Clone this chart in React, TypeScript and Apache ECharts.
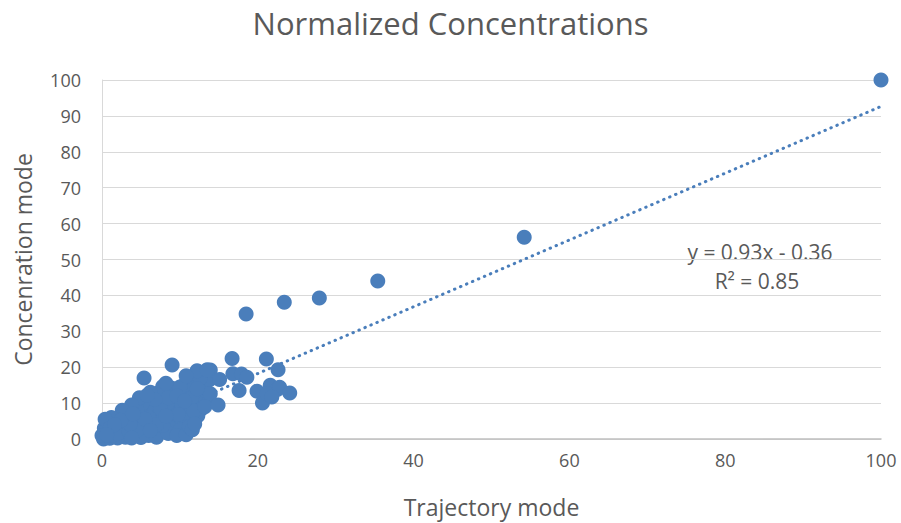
import React, { useEffect, useRef } from "react";
import * as echarts from "echarts";

const titleText = "Normalized Concentrations";
const xName = "Trajectory mode";
const yName = "Concenration mode";
const xTicks = [0, 20, 40, 60, 80, 100];
const yTicks = [0, 10, 20, 30, 40, 50, 60, 70, 80, 90, 100];

// scattered / outlying points
const outliers: number[][] = [
  [100, 100], [54.2, 56.2], [35.4, 44], [27.9, 39.3], [23.4, 38.1], [18.5, 34.8],
  [21.1, 22.3], [16.7, 22.4], [22.6, 19.3], [9, 20.6], [5.4, 17],
  [12.2, 19], [13.9, 19.2], [15.1, 16.6], [16.8, 18.2], [17.9, 18.1], [18.6, 17.2],
  [17.6, 13.5], [19.9, 13.3], [20.6, 10], [21.6, 15], [22.5, 13.8], [21.2, 12.6],
  [22.8, 14.4], [24.1, 12.8], [21.8, 11.7], [14.9, 9.5], [11.6, 2.6], [11.9, 4.2],
  [13.5, 19.3], [10.8, 17.6], [8.2, 15.5],
];

// dense cluster near the origin
const cluster: number[][] = [
  [10.5, 15], [11.4, 16.2], [12.4, 15.5], [13.2, 14], [12.8, 12.2], [13.5, 11],
  [11.5, 13.5], [10.2, 12.8], [12, 10.5], [13.8, 16.5], [13.9, 12.6], [9.8, 10.2],
  [11, 9], [12.8, 8.4], [10.3, 7.5], [8.9, 14.2], [8, 12], [7.8, 14.6], [9, 11.2],
  [9.5, 9], [8.5, 8], [9.2, 6], [10.8, 5.5], [8, 5], [9.5, 4], [8.8, 3], [7.5, 2],
  [6, 1], [7, 0.5], [8.5, 1.5], [10, 2.5], [6.5, 3.5], [7, 6.5], [6.5, 9], [6, 11],
  [5.5, 8], [5, 6], [5.2, 10], [4.5, 4], [4.5, 8], [3.5, 6.5], [3, 3], [4, 1],
  [3, 0.5], [2, 0.3], [1, 0.2], [0.3, 0.5], [0.5, 2], [1.5, 2.5], [2.5, 2],
  [0.8, 4.5], [1.8, 5], [2.2, 4], [3.2, 5.2], [0.3, 3], [1.2, 1], [5.5, 2],
  [5.8, 4.5], [6.8, 7.8], [7.4, 10], [4, 3], [2.8, 6], [0.2, 0], [0, 1],
  [9.6, 1], [10.8, 1.2], [11.2, 3.5], [12.3, 6.5], [11.5, 11.5], [10, 14.5],
  [12.6, 17], [7.2, 12.8], [6.2, 13], [4.8, 11.5], [3.8, 9.5], [2.6, 8], [1.2, 6],
  [0.4, 5.5], [5, 0.4], [7.8, 3.8], [9.8, 6.8], [11.8, 7.8], [13.2, 9], [8.4, 10],
  [1, 3], [2, 1.5], [3.5, 2], [4.5, 2.5], [6, 6], [7.5, 8.5], [8.5, 11.5], [7, 4],
  [5.5, 5.5], [3.6, 4.2], [2.4, 5.2], [6.2, 2.4], [8.2, 6.4], [9.6, 12], [10.6, 10.6],
  [12.2, 14], [4, 7], [6.8, 11], [5.8, 12.2], [1.6, 4], [0.6, 1.2], [3.8, 0.3],
];

const slope = 0.93;
const intercept = -0.36;
const trendX = [0, 100];

export default function App() {
  const ref = useRef<HTMLDivElement>(null);
  useEffect(() => {
    document.body.style.margin = "0";
    if (!ref.current) return;
    const chart = echarts.init(ref.current, undefined, { renderer: "svg" });
    const blue = "#4A7EBB";
    const textColor = "#595959";
    const font = "Open Sans";
    chart.setOption({
      animation: false,
      backgroundColor: "#ffffff",
      title: {
        text: titleText,
        left: "center",
        top: 2,
        textStyle: { fontFamily: font, fontSize: 31, fontWeight: "normal", color: textColor },
      },
      grid: { left: 102, right: 20, top: 80, bottom: 84, containLabel: false },
      xAxis: {
        type: "value",
        min: xTicks[0],
        max: xTicks[xTicks.length - 1],
        interval: 20,
        name: xName,
        nameLocation: "middle",
        nameGap: 56,
        nameTextStyle: { fontFamily: font, fontSize: 23, color: textColor },
        axisLine: { show: true, lineStyle: { color: "#bfbfbf", width: 1.5 } },
        axisTick: { show: false },
        splitLine: { show: false },
        axisLabel: { fontFamily: font, fontSize: 18, color: textColor, margin: 12 },
      },
      yAxis: {
        type: "value",
        min: yTicks[0],
        max: yTicks[yTicks.length - 1],
        interval: 10,
        name: yName,
        nameLocation: "middle",
        nameGap: 68,
        nameTextStyle: { fontFamily: font, fontSize: 23, color: textColor },
        axisLine: { show: true, lineStyle: { color: "#d9d9d9", width: 1 } },
        axisTick: { show: false },
        splitLine: { show: true, lineStyle: { color: "#d9d9d9", width: 1 } },
        axisLabel: { fontFamily: font, fontSize: 18, color: textColor, margin: 21 },
      },
      graphic: [
        {
          type: "text",
          x: 760,
          y: 252,
          style: {
            text: "y = 0.93x - 0.36",
            fontFamily: font,
            fontSize: 21,
            fill: textColor,
            align: "center",
            verticalAlign: "middle",
          },
        },
        {
          type: "text",
          x: 757,
          y: 281,
          style: {
            text: "R² = 0.85",
            fontFamily: font,
            fontSize: 21,
            fill: textColor,
            align: "center",
            verticalAlign: "middle",
          },
        },
      ],
      series: [
        {
          type: "line",
          data: trendX.map((x) => [x, slope * x + intercept]),
          showSymbol: false,
          symbol: "none",
          lineStyle: { color: blue, width: 3, type: [0.5, 6], cap: "round" },
          z: 1,
        },
        {
          type: "scatter",
          data: [...cluster, ...outliers],
          symbolSize: 15,
          clip: false,
          itemStyle: { color: blue, opacity: 1 },
          z: 2,
        },
      ],
    });
    return () => chart.dispose();
  }, []);
  return <div ref={ref} style={{ width: 901, height: 523 }} />;
}
